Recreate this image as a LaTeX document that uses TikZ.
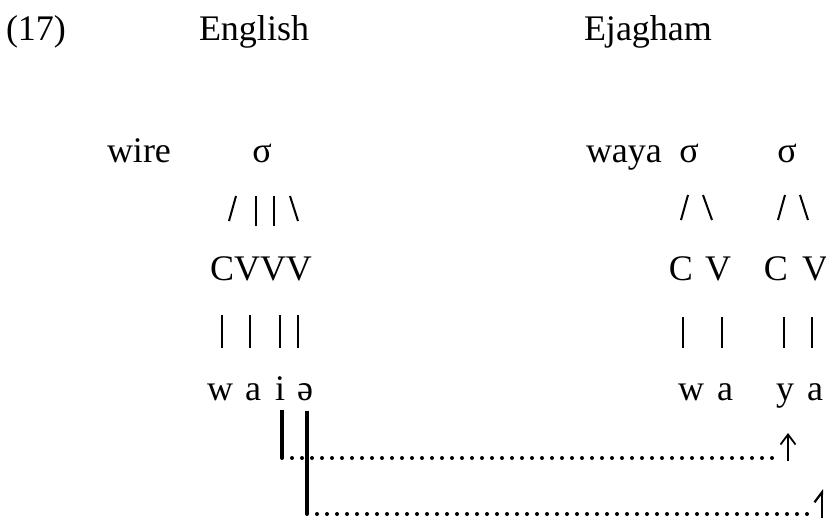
\documentclass[tikz,border=0pt]{standalone}
\usepackage{fontspec}
\setmainfont{Liberation Serif}
\usetikzlibrary{arrows.meta}
\tikzset{
  txt/.style={inner sep=0pt, outer sep=0pt, font=\fontsize{18}{20}\selectfont},
  branch/.style={line width=1pt},
  bar/.style={line width=1.1pt},
  link/.style={line width=1.6pt},
  dots/.style={line width=2pt, line cap=round, dash pattern=on 0pt off 5pt},
  uparrow/.style={line width=0.9pt, -{Straight Barb[length=5pt,width=7.5pt]}},
  halfarrow/.style={line width=1.1pt, -{Straight Barb[harpoon,length=5pt,width=7.5pt]}}
}
\begin{document}
\begin{tikzpicture}[x=0.5pt,y=-0.5pt]
\useasboundingbox (0,0) rectangle (826,520);
% header
\node[txt, anchor=base west] (num) at (6,40) {(17)};
\node[txt, anchor=base west] (eng) at (199,40) {English};
\node[txt, anchor=base west] (eja) at (584,40) {Ejagham};
% English tree
\node[txt, anchor=base west] (wire) at (107,162) {wire};
\node[txt, anchor=base] (sigE) at (262,162) {σ};
\draw[branch] (236,196) -- (229,221);
\draw[bar] (256,196) -- (256,226);
\draw[bar] (274,196) -- (274,226);
\draw[branch] (290,196) -- (298,221);
\node[txt, anchor=base west] (cvvv) at (210,280) {CVVV};
\draw[bar] (222,315) -- (222,348);
\draw[bar] (250,315) -- (250,348);
\draw[bar] (280,315) -- (280,348);
\draw[bar] (298,315) -- (298,348);
\node[txt, anchor=base] (w1) at (220,400) {w};
\node[txt, anchor=base] (a1) at (253,400) {a};
\node[txt, anchor=base] (i1) at (280,400) {i};
\node[txt, anchor=base] (s1) at (305,400) {ə};
% Ejagham trees
\node[txt, anchor=base west] (waya) at (586,162) {waya};
\node[txt, anchor=base] (sig1) at (689,162) {σ};
\node[txt, anchor=base] (sig2) at (787,162) {σ};
\draw[branch] (688,195) -- (681,220);
\draw[branch] (703,195) -- (712,220);
\draw[branch] (785,195) -- (778,220);
\draw[branch] (800,195) -- (808,220);
\node[txt, anchor=base] (C1) at (681,280) {C};
\node[txt, anchor=base] (V1) at (718,280) {V};
\node[txt, anchor=base] (C2) at (776,280) {C};
\node[txt, anchor=base] (V2) at (815,280) {V};
\draw[bar] (683,317) -- (683,348);
\draw[bar] (722,317) -- (722,348);
\draw[bar] (784,317) -- (784,348);
\draw[bar] (812,317) -- (812,348);
\node[txt, anchor=base] (w2) at (691,400) {w};
\node[txt, anchor=base] (a2) at (725,400) {a};
\node[txt, anchor=base] (y2) at (785,400) {y};
\node[txt, anchor=base] (a3) at (815,400) {a};
% links
\coordinate (p1) at (282,410);
\coordinate (q1) at (282,458);
\coordinate (r1) at (773,458);
\coordinate (t1a) at (788,461);
\coordinate (t1b) at (788,433);
\coordinate (p2) at (307,411);
\coordinate (q2) at (307,514);
\coordinate (r2) at (810,514);
\coordinate (t2a) at (822,518);
\coordinate (t2b) at (822,489);
\draw[link] (p1) -- (q1);
\draw[dots] (q1) -- (r1);
\draw[uparrow] (t1a) -- (t1b);
\draw[link] (p2) -- (q2);
\draw[dots] (q2) -- (r2);
\draw[halfarrow] (t2a) -- (t2b);
\end{tikzpicture}
\end{document}
